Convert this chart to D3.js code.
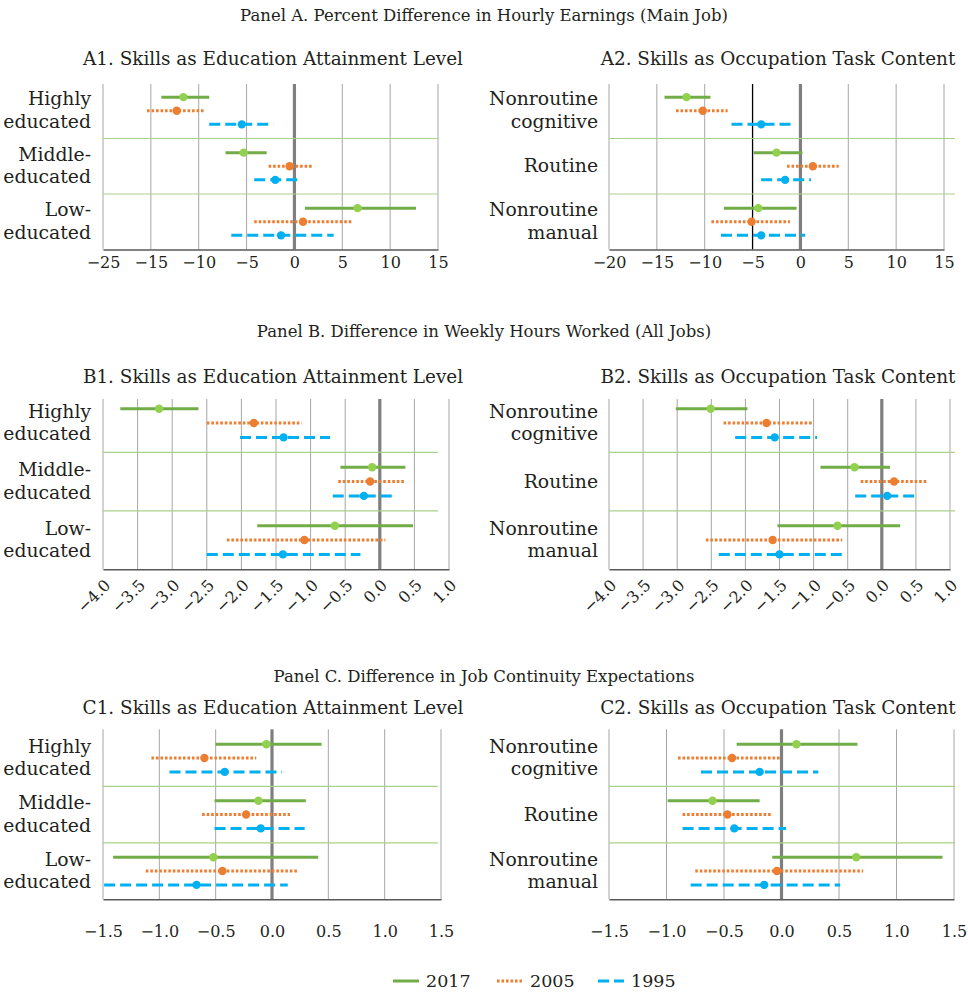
<!DOCTYPE html>
<html><head><meta charset="utf-8">
<script src="https://cdn.jsdelivr.net/npm/d3@7"></script>
<style>body{margin:0;background:#fff} text{font-family:"DejaVu Serif",serif;fill:#231f20}</style>
</head><body><svg id="c" width="968" height="992"></svg>
<script>
const years = ["2017","2005","1995"];
const eduCats = [["Highly","educated"],["Middle-","educated"],["Low-","educated"]];
const occCats = [["Nonroutine","cognitive"],["Routine"],["Nonroutine","manual"]];

// rows per category: [low, estimate, high]
const a1_2017 = [[-13.9,-11.6,-8.9],[-7.2,-5.3,-2.9],[1.1,6.6,12.7]];
const a1_2005 = [[-15.4,-12.3,-9.5],[-2.7,-0.5,2.0],[-4.2,0.9,6.1]];
const a1_1995 = [[-8.9,-5.5,-2.2],[-4.2,-2.0,0.6],[-6.6,-1.4,4.1]];
const a2_2017 = [[-14.2,-11.9,-9.4],[-4.9,-2.5,0.2],[-8.0,-4.4,-0.4]];
const a2_2005 = [[-13.0,-10.2,-7.6],[-1.4,1.3,4.0],[-9.3,-5.1,-1.1]];
const a2_1995 = [[-7.2,-4.1,-0.7],[-4.1,-1.6,1.1],[-8.3,-4.1,0.5]];
const b1_2017 = [[-3.75,-3.19,-2.62],[-0.57,-0.11,0.37],[-1.77,-0.65,0.48]];
const b1_2005 = [[-2.5,-1.82,-1.13],[-0.6,-0.14,0.37],[-2.21,-1.09,0.08]];
const b1_1995 = [[-2.02,-1.39,-0.72],[-0.68,-0.23,0.22],[-2.5,-1.4,-0.28]];
const b2_2017 = [[-3.02,-2.51,-1.97],[-0.9,-0.4,0.12],[-1.53,-0.65,0.27]];
const b2_2005 = [[-2.32,-1.69,-1.02],[-0.31,0.18,0.68],[-2.58,-1.6,-0.58]];
const b2_1995 = [[-2.15,-1.57,-0.95],[-0.39,0.08,0.54],[-2.39,-1.5,-0.58]];
const c1_2017 = [[-0.5,-0.05,0.44],[-0.51,-0.12,0.3],[-1.41,-0.52,0.41]];
const c1_2005 = [[-1.07,-0.6,-0.14],[-0.62,-0.23,0.16],[-1.12,-0.44,0.23]];
const c1_1995 = [[-0.91,-0.42,0.09],[-0.51,-0.1,0.29],[-1.49,-0.67,0.14]];
const c2_2017 = [[-0.39,0.13,0.66],[-0.99,-0.6,-0.19],[-0.08,0.65,1.4]];
const c2_2005 = [[-0.9,-0.43,0.0],[-0.86,-0.47,-0.09],[-0.75,-0.04,0.71]];
const c2_1995 = [[-0.7,-0.19,0.32],[-0.86,-0.41,0.04],[-0.79,-0.15,0.51]];

const ticksA = [-20,-15,-10,-5,0,5,10,15];
const tickLabelsA1 = ["−25","−15","−10","−5","0","5","10","15"];
const tickLabelsA2 = ["−20","−15","−10","−5","0","5","10","15"];
const ticksB = [-4,-3.5,-3,-2.5,-2,-1.5,-1,-0.5,0,0.5,1];
const tickLabelsB = ["−4.0","−3.5","−3.0","−2.5","−2.0","−1.5","−1.0","−0.5","0.0","0.5","1.0"];
const ticksC = [-1.5,-1,-0.5,0,0.5,1,1.5];
const tickLabelsC = ["−1.5","−1.0","−0.5","0.0","0.5","1.0","1.5"];

const panelTitles = [
  "Panel A. Percent Difference in Hourly Earnings (Main Job)",
  "Panel B. Difference in Weekly Hours Worked (All Jobs)",
  "Panel C. Difference in Job Continuity Expectations"];
const subTitles = [
  "A1. Skills as Education Attainment Level","A2. Skills as Occupation Task Content",
  "B1. Skills as Education Attainment Level","B2. Skills as Occupation Task Content",
  "C1. Skills as Education Attainment Level","C2. Skills as Occupation Task Content"];

const colors = {"2017":"#70ad47","2005":"#ed7d31","1995":"#00b0f0"};
const dotColors = {"2017":"#92d050","2005":"#ed7d31","1995":"#00b0f0"};
const dash = {"2017":null,"2005":"2.6,1.9","1995":"11,5"};

const svg = d3.select("#c");

const rowsY = [{axisY:249.5, band:55.5, gridTop:84, titleY:21, subY:65},
               {axisY:569.3, band:58.5, gridTop:399, titleY:337, subY:383},
               {axisY:899.3, band:56.5, gridTop:729.3, titleY:682, subY:714}];
const cols = [{x0:103, plotRight:438, labelX:91, subX:273},
              {x0:609, plotRight:955, labelX:598, subX:778}];

const panels = [
  {r:0,c:0,cats:eduCats,data:[a1_2017,a1_2005,a1_1995],domain:[-20,15],x1:438,ticks:ticksA,labels:tickLabelsA1,mode:"A"},
  {r:0,c:1,cats:occCats,data:[a2_2017,a2_2005,a2_1995],domain:[-20,15],x1:944,ticks:ticksA,labels:tickLabelsA2,mode:"A",ref:-5},
  {r:1,c:0,cats:eduCats,data:[b1_2017,b1_2005,b1_1995],domain:[-4,1],x1:449,ticks:ticksB,labels:tickLabelsB,mode:"B"},
  {r:1,c:1,cats:occCats,data:[b2_2017,b2_2005,b2_1995],domain:[-4,1],x1:950,ticks:ticksB,labels:tickLabelsB,mode:"B"},
  {r:2,c:0,cats:eduCats,data:[c1_2017,c1_2005,c1_1995],domain:[-1.5,1.5],x1:441,ticks:ticksC,labels:tickLabelsC,mode:"C"},
  {r:2,c:1,cats:occCats,data:[c2_2017,c2_2005,c2_1995],domain:[-1.5,1.5],x1:954,ticks:ticksC,labels:tickLabelsC,mode:"C"}
];

rowsY.forEach((R,i)=>{
  svg.append("text").attr("x",484).attr("y",R.titleY).attr("text-anchor","middle")
    .style("font-size","16.5px").text(panelTitles[i]);
});

panels.forEach((p,pi)=>{
  const R = rowsY[p.r], C = cols[p.c];
  const g = svg.append("g");
  const x = d3.scaleLinear().domain(p.domain).range([C.x0, p.x1]);
  const catIdx = p.cats.map((d,i)=>i);
  const y = d3.scaleBand().domain(catIdx).range([R.axisY-3*R.band, R.axisY]);
  const sub = d3.scalePoint().domain(years).range([-0.245*R.band, 0.245*R.band]);

  // subtitle
  svg.append("text").attr("x",C.subX).attr("y",R.subY).attr("text-anchor","middle")
    .style("font-size","18.4px").text(subTitles[pi]);

  // gridlines
  g.selectAll(".grid").data(p.ticks).join("line")
    .attr("x1",d=>x(d)).attr("x2",d=>x(d)).attr("y1",R.gridTop).attr("y2",R.axisY)
    .attr("stroke", d=> d===0 ? "#7f7f7f" : (d===p.ref ? "#000" : "#a6a6a6"))
    .attr("stroke-width", d=> d===0 ? 3.2 : (d===p.ref ? 1.3 : 1));
  // separators
  g.selectAll(".sep").data(catIdx.slice(1)).join("line")
    .attr("x1",C.x0).attr("x2",C.plotRight).attr("y1",d=>y(d)).attr("y2",d=>y(d))
    .attr("stroke","#a9d18e").attr("stroke-width",1.2);
  // axis
  const ax = g.append("g").attr("transform",`translate(0,${R.axisY})`)
    .call(d3.axisBottom(x).tickValues(p.ticks).tickSize(0).tickFormat((d,i)=>p.labels[i]));
  ax.select(".domain").attr("stroke","#595959").attr("stroke-width",1.5);
  ax.selectAll("text").style("font-family","DejaVu Serif").style("font-size","16px").attr("fill","#231f20");
  if (p.mode==="A") ax.selectAll("text").attr("dy",0).attr("y",18);
  if (p.mode==="C") ax.selectAll("text").attr("dy",0).attr("y",38);
  if (p.mode==="B") ax.selectAll("text").attr("dy",0).attr("y",0)
      .attr("text-anchor","end").attr("transform","translate(8,17) rotate(-45)");

  // category labels
  p.cats.forEach((lines,i)=>{
    const cy = y(i)+y.bandwidth()/2;
    const t = svg.append("text").attr("text-anchor","end").style("font-size","18.8px");
    const start = lines.length===1 ? cy+6 : cy-5.5;
    lines.forEach((ln,k)=>t.append("tspan").attr("x",C.labelX).attr("y",start+k*22.5).text(ln));
  });

  // series
  years.forEach((yr,si)=>{
    const rows = p.data[si];
    const sg = g.append("g");
    sg.selectAll("line").data(rows).join("line")
      .attr("x1",d=>x(d[0])).attr("x2",d=>x(d[2]))
      .attr("y1",(d,i)=>y(i)+y.bandwidth()/2+sub(yr)).attr("y2",(d,i)=>y(i)+y.bandwidth()/2+sub(yr))
      .attr("stroke",colors[yr]).attr("stroke-width",3)
      .attr("stroke-dasharray",dash[yr]);
    sg.selectAll("circle").data(rows).join("circle")
      .attr("cx",d=>x(d[1])).attr("cy",(d,i)=>y(i)+y.bandwidth()/2+sub(yr)).attr("r",4.2)
      .attr("fill",dotColors[yr]);
  });
});

// legend
const legend = svg.append("g").attr("transform","translate(0,981)");
const legX = [393,497,598];
years.forEach((yr,i)=>{
  legend.append("line").attr("x1",legX[i]).attr("x2",legX[i]+26).attr("y1",0).attr("y2",0)
    .attr("stroke",colors[yr]).attr("stroke-width",3).attr("stroke-dasharray",dash[yr]);
  legend.append("text").attr("x",legX[i]+33).attr("y",6).style("font-size","17.5px").text(yr);
});
</script></body></html>
